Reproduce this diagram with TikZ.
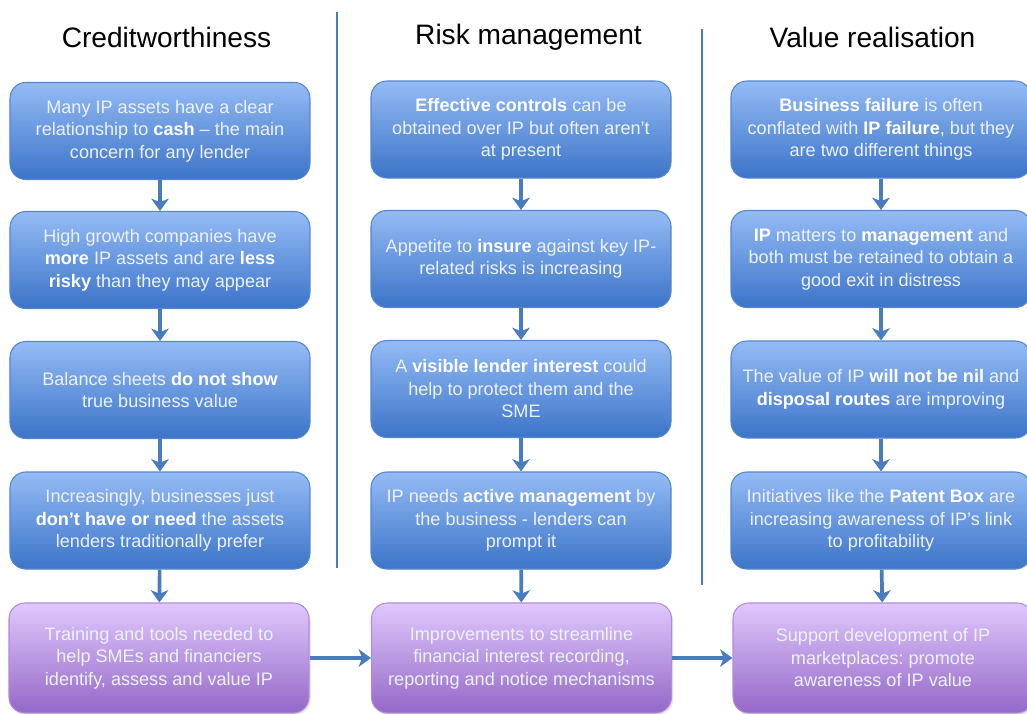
\documentclass[tikz,border=0pt]{standalone}
\usepackage{fontspec}
\setmainfont{Liberation Sans}
\frenchspacing
\usetikzlibrary{arrows.meta,shadows}
\definecolor{cardtop}{RGB}{148,187,245}
\definecolor{cardbottom}{RGB}{60,116,200}
\definecolor{cardline}{RGB}{86,134,204}
\definecolor{actiontop}{RGB}{224,200,252}
\definecolor{actionbottom}{RGB}{148,104,200}
\definecolor{actionline}{RGB}{176,140,220}
\definecolor{flow}{RGB}{72,124,190}
\definecolor{soft}{RGB}{236,242,252}
\tikzset{
    every node/.style={align=center,},
    card/.style={rectangle,rounded corners=9pt,draw=cardline,line width=0.6pt,
        top color=cardtop,bottom color=cardbottom,minimum width=6cm,minimum height=1.94cm,
        text=soft,font=\fontsize{10.3}{12.8}\selectfont,},
    action/.style={card,draw=actionline,top color=actiontop,bottom color=actionbottom,
        minimum height=2.2cm,drop shadow={opacity=0.2,shadow xshift=1pt,shadow yshift=-1pt},},
    heading/.style={font=\fontsize{16}{19}\selectfont,},
    flow/.style={draw=flow,line width=2.1pt,-{Stealth[length=7pt,width=10pt,inset=2pt]},},
    divider/.style={draw=flow,line width=1.7pt,},
}
\newcommand{\hi}[1]{\textcolor{white}{\textbf{#1}}}

\begin{document}
\begin{tikzpicture}
        \useasboundingbox (0,0) rectangle (20.54,-14.28);

        \node[heading] (credit) at (3.33, -0.74) {Creditworthiness};
        \node[heading] (risk) at (10.57, -0.74) {Risk management};
        \node[heading] (value) at (17.45, -0.74) {Value realisation};

        \coordinate (div1top) at (6.74, -0.24);
        \coordinate (div1bot) at (6.74, -11.36);
        \coordinate (div2top) at (14.04, -0.58);
        \coordinate (div2bot) at (14.04, -11.7);
        \draw[divider] (div1top) to (div1bot);
        \draw[divider] (div2top) to (div2bot);

        % creditworthiness
        \node[card] (cash) at (3.2, -2.62) {Many IP assets have a clear\\relationship to \hi{cash} -- the main\\concern for any lender};
        \node[card] (growth) at (3.2, -5.2) {High growth companies have\\\hi{more} IP assets and are \hi{less}\\\hi{risky} than they may appear};
        \node[card] (balance) at (3.2, -7.8) {Balance sheets \hi{do not show}\\true business value};
        \node[card] (assets) at (3.2, -10.41) {Increasingly, businesses just\\\hi{don't have or need} the assets\\lenders traditionally prefer};
        \node[action] (training) at (3.18, -13.16) {Training and tools needed to\\help SMEs and financiers\\identify, assess and value IP};

        % risk management
        \node[card] (controls) at (10.42, -2.59) {\hi{Effective controls} can be\\obtained over IP but often aren't\\at present};
        \node[card] (insure) at (10.42, -5.18) {Appetite to \hi{insure} against key IP-\\related risks is increasing};
        \node[card] (lender) at (10.42, -7.78) {A \hi{visible lender interest} could\\help to protect them and the\\SME};
        \node[card] (manage) at (10.42, -10.41) {IP needs \hi{active management} by\\the business - lenders can\\prompt it};
        \node[action] (recording) at (10.43, -13.16) {Improvements to streamline\\financial interest recording,\\reporting and notice mechanisms};

        % value realisation
        \node[card] (failure) at (17.62, -2.59) {\hi{Business failure} is often\\conflated with \hi{IP failure}, but they\\are two different things};
        \node[card] (exit) at (17.62, -5.18) {\hi{IP} matters to \hi{management} and\\both must be retained to obtain a\\good exit in distress};
        \node[card] (disposal) at (17.62, -7.79) {The value of IP \hi{will not be nil} and\\\hi{disposal routes} are improving};
        \node[card] (patent) at (17.62, -10.41) {Initiatives like the \hi{Patent Box} are\\increasing awareness of IP's link\\to profitability};
        \node[action] (market) at (17.66, -13.16) {Support development of IP\\marketplaces: promote\\awareness of IP value};

        \draw[flow] (cash) to (growth);
        \draw[flow] (growth) to (balance);
        \draw[flow] (balance) to (assets);
        \draw[flow] (assets) to (training);

        \draw[flow] (controls) to (insure);
        \draw[flow] (insure) to (lender);
        \draw[flow] (lender) to (manage);
        \draw[flow] (manage) to (recording);

        \draw[flow] (failure) to (exit);
        \draw[flow] (exit) to (disposal);
        \draw[flow] (disposal) to (patent);
        \draw[flow] (patent) to (market);

        \draw[flow] (training) to (recording);
        \draw[flow] (recording) to (market);
    \end{tikzpicture}
\end{document}
